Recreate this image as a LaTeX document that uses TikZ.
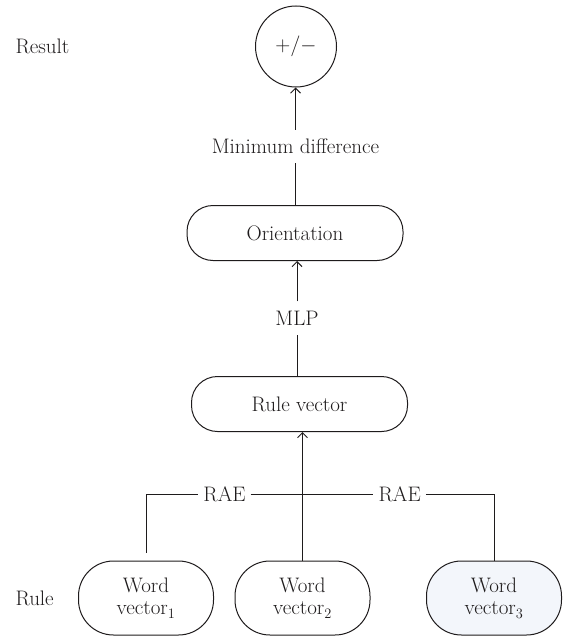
\documentclass[tikz,border=0pt]{standalone}
\usetikzlibrary{arrows.meta}
\definecolor{ink}{RGB}{30,27,28}
\definecolor{paleblue}{RGB}{243,246,251}
\begin{document}
\begin{tikzpicture}[x=1pt,y=-1pt,
  every node/.style={font=\fontsize{21}{22.5}\selectfont, text=ink},
  conn/.style={draw=ink, line width=1pt},
  arr/.style={conn, -{Straight Barb[length=5pt,width=10pt]}},
  pill/.style={draw=ink, line width=1pt, rounded corners=26pt, minimum width=216pt, minimum height=55pt, inner sep=0pt},
  wordbox/.style={draw=ink, line width=1pt, rounded corners=35pt, minimum width=135pt, minimum height=74pt, inner sep=0pt, align=center},
  lbl/.style={inner sep=0pt, minimum height=33pt},
  rae/.style={inner ysep=0pt, inner xsep=5pt}]
\useasboundingbox (0,0) rectangle (563,637);

\node[circle, draw=ink, line width=1pt, minimum size=81pt, inner sep=0pt] (res) at (296,46.5) {$+/-$};
\node[anchor=west] (resultlbl) at (12,46) {Result};
\node[lbl] (mind) at (295.5,146.5) {Minimum difference};
\node[pill] (orient) at (295,233) {Orientation};
\node[lbl] (mlp) at (297,318) {MLP};
\node[pill] (rv) at (299.5,404) {Rule vector};

\node[wordbox] (w1) at (146,598) {Word\\vector$_1$};
\node[wordbox] (w2) at (302.5,598) {Word\\vector$_2$};
\node[wordbox, fill=paleblue] (w3) at (494,598) {Word\\vector$_3$};
\node[anchor=west] (rulelbl) at (12,598) {Rule};

\node[rae] (rae1) at (224.5,494.7) {RAE};
\node[rae] (rae2) at (399.7,494.7) {RAE};

\draw[arr] (mind) -- (mind |- res.south);
\draw[conn] (orient.north -| mind) -- (mind);
\draw[arr] (mlp) -- (mlp |- orient.south);
\draw[conn] (rv.north -| mlp) -- (mlp);
\draw[arr] (w2.north) -- (w2.north |- rv.south);
\draw[conn, shorten <=8pt] (w1.north) |- (rae1.west);
\draw[conn] (rae1.east) -- (rae2.west);
\draw[conn] (rae2.east) -| (w3.north);
\end{tikzpicture}
\end{document}
